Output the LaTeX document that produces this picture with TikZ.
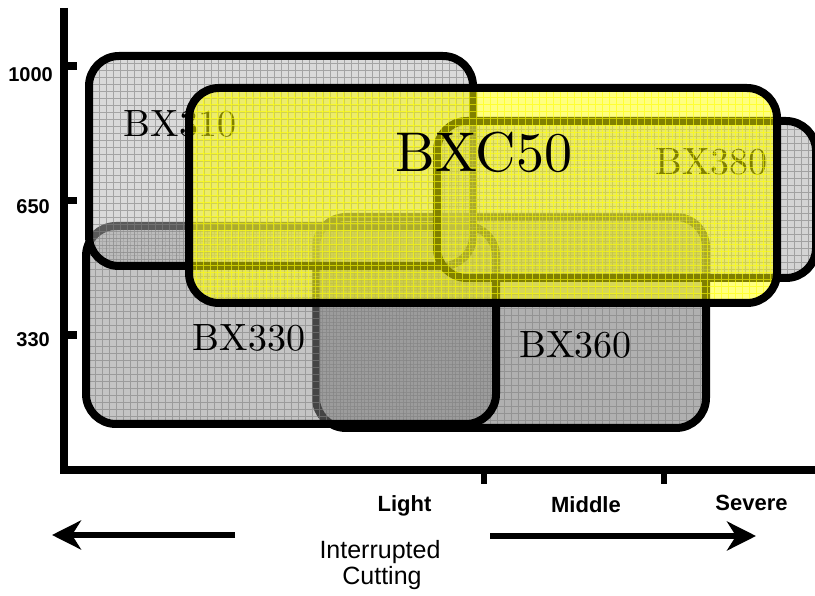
\documentclass[tikz,border=0pt]{standalone}
\usepackage{fontspec}
\usepackage{tikz}
\usetikzlibrary{arrows.meta}
\newfontfamily\axisfont{Liberation Sans}
\newfontfamily\labelfont{lmroman10-regular.otf}
\definecolor{lightgrey}{HTML}{B5B5B5}
\definecolor{midgrey}{HTML}{898989}
\definecolor{darkgrey}{HTML}{626262}
\definecolor{palegrey}{HTML}{AAAAAA}
\definecolor{gridgrey}{HTML}{808080}
\definecolor{boxyellow}{HTML}{FFFF00}

\tikzset{
  toolbox/.style 2 args={draw, line width=8pt, rounded corners=30pt,
    fill=#1, fill opacity=0.5, inner sep=0pt,
    path picture={\draw[#2, line width=0.6pt, draw opacity=0.6]
      (path picture bounding box.south west) grid[step=7pt]
      (path picture bounding box.north east);}},
  boxlabel/.style={inner sep=0pt, font=\labelfont\fontsize{38}{40}\selectfont},
  axislabel/.style={inner sep=0pt, font=\axisfont\bfseries\fontsize{20}{22}\selectfont},
  condlabel/.style={inner sep=0pt, anchor=base, font=\axisfont\bfseries\fontsize{22}{24}\selectfont},
  axisline/.style={line width=7.5pt},
  bigarrow/.style={line width=6pt, -{Stealth[length=29pt,width=29pt,inset=9pt]}}
}

\begin{document}
\begin{tikzpicture}[x=1pt, y=-1pt]
    \useasboundingbox (0,0) rectangle (815,596);

    % axes
    \coordinate (ytop) at (64,8);
    \coordinate (origin) at (64,470);
    \coordinate (xend) at (815,470);
    \draw[axisline] (ytop) -- (origin) -- (xend);
    \foreach \ty in {66,200.5,335}
      \draw[axisline] (64,\ty) -- (77,\ty);
    \foreach \tx in {484,664}
      \draw[line width=6pt] (\tx,470) -- (\tx,484);
    \node[axislabel, anchor=east] (l1000) at (53,75) {1000};
    \node[axislabel, anchor=east] (l650) at (50,206.5) {650};
    \node[axislabel, anchor=east] (l330) at (50,340) {330};

    % tool ranges
    \node[toolbox={darkgrey}{gridgrey}, minimum width=390pt, minimum height=211pt] (bx360) at (511,322.5) {};
    \node[toolbox={midgrey}{gridgrey}, minimum width=410pt, minimum height=198pt] (bx330) at (291,325) {};
    \node[toolbox={lightgrey}{gridgrey}, minimum width=384pt, minimum height=210pt] (bx310) at (281,161) {};
    \node[toolbox={palegrey}{gridgrey}, minimum width=379pt, minimum height=157pt] (bx380) at (626.5,199.5) {};
    \node[boxlabel] (t310) at (180,123.5) {BX310};
    \node[boxlabel] (t380) at (711.5,161.5) {BX380};
    \node[boxlabel] (t330) at (249,337.5) {BX330};
    \node[boxlabel] (t360) at (575.5,344.5) {BX360};
    \node[toolbox={boxyellow}{boxyellow}, minimum width=588pt, minimum height=215pt] (bxc50) at (483,195.5) {};
    \node[boxlabel, font=\labelfont\fontsize{56}{58}\selectfont] (tc50) at (484,152.5) {BXC50};

    % cutting conditions
    \node[condlabel] (light) at (404.5,511) {Light};
    \node[condlabel] (middle) at (586,512) {Middle};
    \node[condlabel] (severe) at (751.5,510) {Severe};
    \node[inner sep=0pt, font=\axisfont\fontsize{25}{27}\selectfont, anchor=base] (interr) at (380,558) {Interrupted};
    \node[inner sep=0pt, font=\axisfont\fontsize{25}{27}\selectfont, anchor=base] (cutt) at (382,584) {Cutting};
    \coordinate (lfrom) at (235,535);
    \coordinate (lto) at (52,535);
    \coordinate (rfrom) at (490,536);
    \coordinate (rto) at (756,536);
    \draw[bigarrow] (lfrom) -- (lto);
    \draw[bigarrow] (rfrom) -- (rto);
\end{tikzpicture}
\end{document}
